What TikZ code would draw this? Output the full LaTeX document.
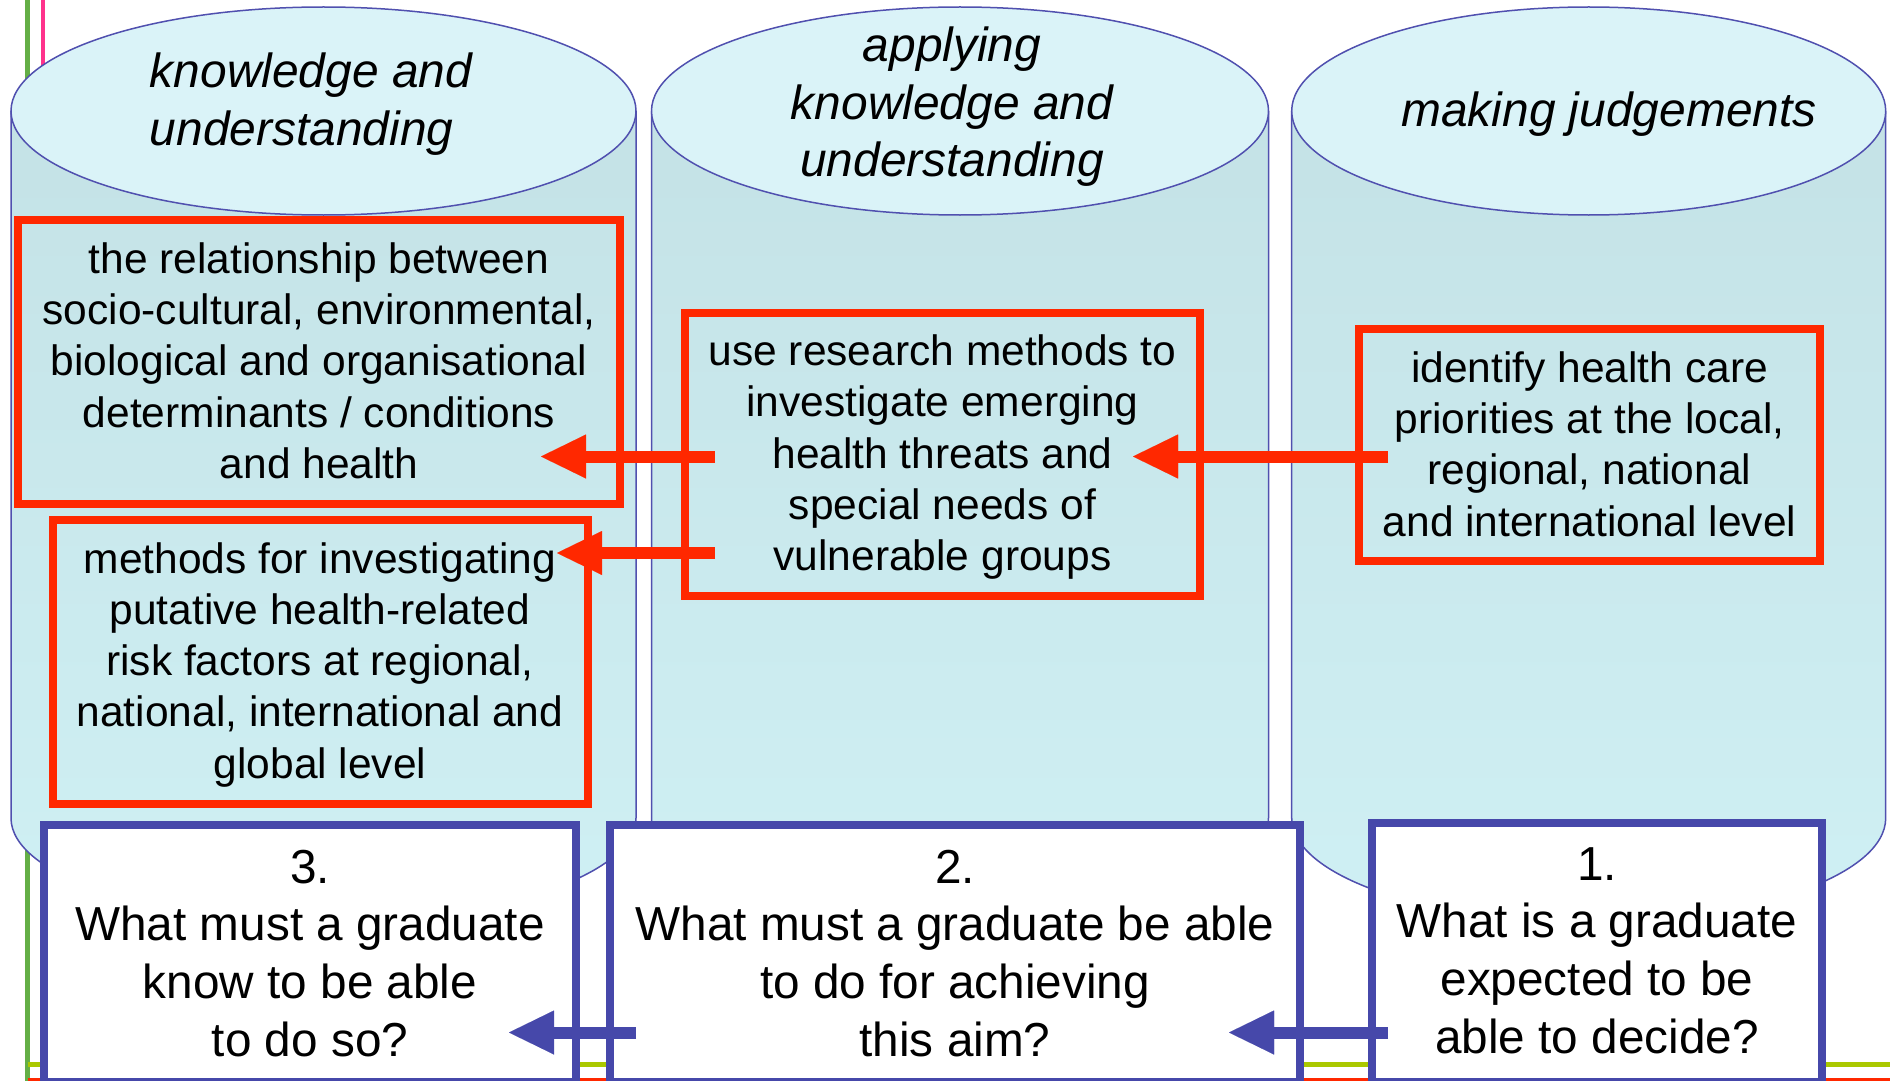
\documentclass[tikz,border=0pt]{standalone}
\usepackage{fontspec}
\setmainfont{Liberation Sans}
\usetikzlibrary{arrows.meta}
\definecolor{redc}{RGB}{255,40,0}
\definecolor{bluec}{RGB}{70,72,170}
\definecolor{cylline}{RGB}{80,80,175}
\definecolor{cyltop}{RGB}{218,243,248}
\definecolor{cylbodyA}{RGB}{196,226,230}
\definecolor{cylbodyB}{RGB}{207,240,244}
\definecolor{lgreen}{RGB}{100,175,70}
\definecolor{lpink}{RGB}{255,50,140}
\definecolor{lyellow}{RGB}{170,200,0}
\begin{document}
\begin{tikzpicture}[x=0.5pt,y=-0.5pt,
  redbox/.style={draw=redc, line width=4pt, inner sep=0pt},
  bluebox/.style={draw=bluec, line width=4pt, fill=white, inner sep=0pt},
  redtxt/.style={inner sep=0pt, font=\fontsize{21.25pt}{25.65pt}\selectfont},
  bluetxt/.style={inner sep=0pt, font=\fontsize{23.85pt}{28.95pt}\selectfont},
  headtxt/.style={inner sep=0pt, font=\fontsize{23.95pt}{28.7pt}\selectfont\itshape},
  redarrow/.style={draw=redc, line width=6pt, -{Triangle[length=22.5pt,width=22pt,line width=0.01pt]}},
  bluearrow/.style={draw=bluec, line width=6pt, -{Triangle[length=22.5pt,width=22pt,line width=0.01pt]}},
  cylout/.style={draw=cylline, line width=0.75pt}
]
\useasboundingbox (0,0) rectangle (1890,1081);
\clip (0,0) rectangle (1890,1081);
\fill[white] (0,0) rectangle (1890,1081);

% decorative lines
\draw[lgreen, line width=2.5pt] (27.5,0) -- (27.5,1081);
\draw[lpink, line width=2.25pt] (43,0) -- (43,1081);
\draw[lyellow, line width=2.5pt] (27.5,1064) -- (1890,1064);
\draw[redc, line width=3pt] (27.5,1080.5) -- (1890,1080.5);

% cylinders
\foreach \cx/\rx in {323.5/312.5, 960/308.5, 1588.7/297}{
  \fill[top color=cylbodyA, bottom color=cylbodyB]
    (\cx-\rx,111) -- (\cx-\rx,818) arc[start angle=180,end angle=0,x radius=\rx,y radius=104] -- (\cx+\rx,111) -- cycle;
  \draw[cylout] (\cx-\rx,111) -- (\cx-\rx,818) arc[start angle=180,end angle=0,x radius=\rx,y radius=104] -- (\cx+\rx,111);
  \draw[cylout, fill=cyltop] (\cx,111) ellipse[x radius=\rx, y radius=104];
}

% headers
\node[headtxt] (h1) at (311,105) {\begin{tabular}{@{}l@{}}knowledge and\\understanding\end{tabular}};
\node[headtxt] (h2) at (952,107.7) {\begin{tabular}{@{}c@{}}applying\\knowledge and\\understanding\end{tabular}};
\node[headtxt] (h3) at (1609,114.7) {\begin{tabular}{@{}c@{}}making judgements\end{tabular}};

% red boxes
\node[redbox, minimum width=301pt, minimum height=142pt] (A) at (319,362) {};
\node[redbox, minimum width=267.5pt, minimum height=142pt] (B) at (320.5,662) {};
\node[redbox, minimum width=257.5pt, minimum height=141.75pt] (C) at (942.5,454.25) {};
\node[redbox, minimum width=230.5pt, minimum height=116pt] (D) at (1589.5,445) {};
\node[redtxt] (At) at (319,365.5) {\begin{tabular}{@{}c@{}}the relationship between\\socio-cultural, environmental,\\biological and organisational\\determinants / conditions\\and health\end{tabular}};
\node[redtxt] (Bt) at (320,665.4) {\begin{tabular}{@{}c@{}}methods for investigating\\putative health-related\\risk factors at regional,\\national, international and\\global level\end{tabular}};
\node[redtxt] (Ct) at (942.5,457.8) {\begin{tabular}{@{}c@{}}use research methods to\\investigate emerging\\health threats and\\special needs of\\vulnerable groups\end{tabular}};
\node[redtxt] (Dt) at (1589.5,448.9) {\begin{tabular}{@{}c@{}}identify health care\\priorities at the local,\\regional, national\\and international level\end{tabular}};

% blue boxes
\node[bluebox, minimum width=266pt, minimum height=128.75pt] (Q3) at (310,953.25) {};
\node[bluebox, minimum width=345pt, minimum height=128.75pt] (Q2) at (955,953.25) {};
\node[bluebox, minimum width=225pt, minimum height=129.5pt] (Q1) at (1597,952.5) {};
\node[bluetxt] (Q3t) at (310,958.3) {\begin{tabular}{@{}c@{}}3.\\What must a graduate\\know to be able\\to do so?\end{tabular}};
\node[bluetxt] (Q2t) at (955,958.3) {\begin{tabular}{@{}c@{}}2.\\What must a graduate be able\\to do for achieving\\this aim?\end{tabular}};
\node[bluetxt] (Q1t) at (1597,955.3) {\begin{tabular}{@{}c@{}}1.\\What is a graduate\\expected to be\\able to decide?\end{tabular}};

% arrow end points
\coordinate (r1s) at (715,456.5);
\coordinate (r1e) at (541,456.5);
\coordinate (r2s) at (715,553);
\coordinate (r2e) at (557,553);
\coordinate (r3s) at (1388,456.5);
\coordinate (r3e) at (1133,456.5);
\coordinate (b1s) at (636,1032.5);
\coordinate (b1e) at (509,1032.5);
\coordinate (b2s) at (1388,1032.5);
\coordinate (b2e) at (1229,1032.5);

\draw[redarrow] (r1s) -- (r1e);
\draw[redarrow] (r2s) -- (r2e);
\draw[redarrow] (r3s) -- (r3e);
\draw[bluearrow] (b1s) -- (b1e);
\draw[bluearrow] (b2s) -- (b2e);
\end{tikzpicture}
\end{document}
